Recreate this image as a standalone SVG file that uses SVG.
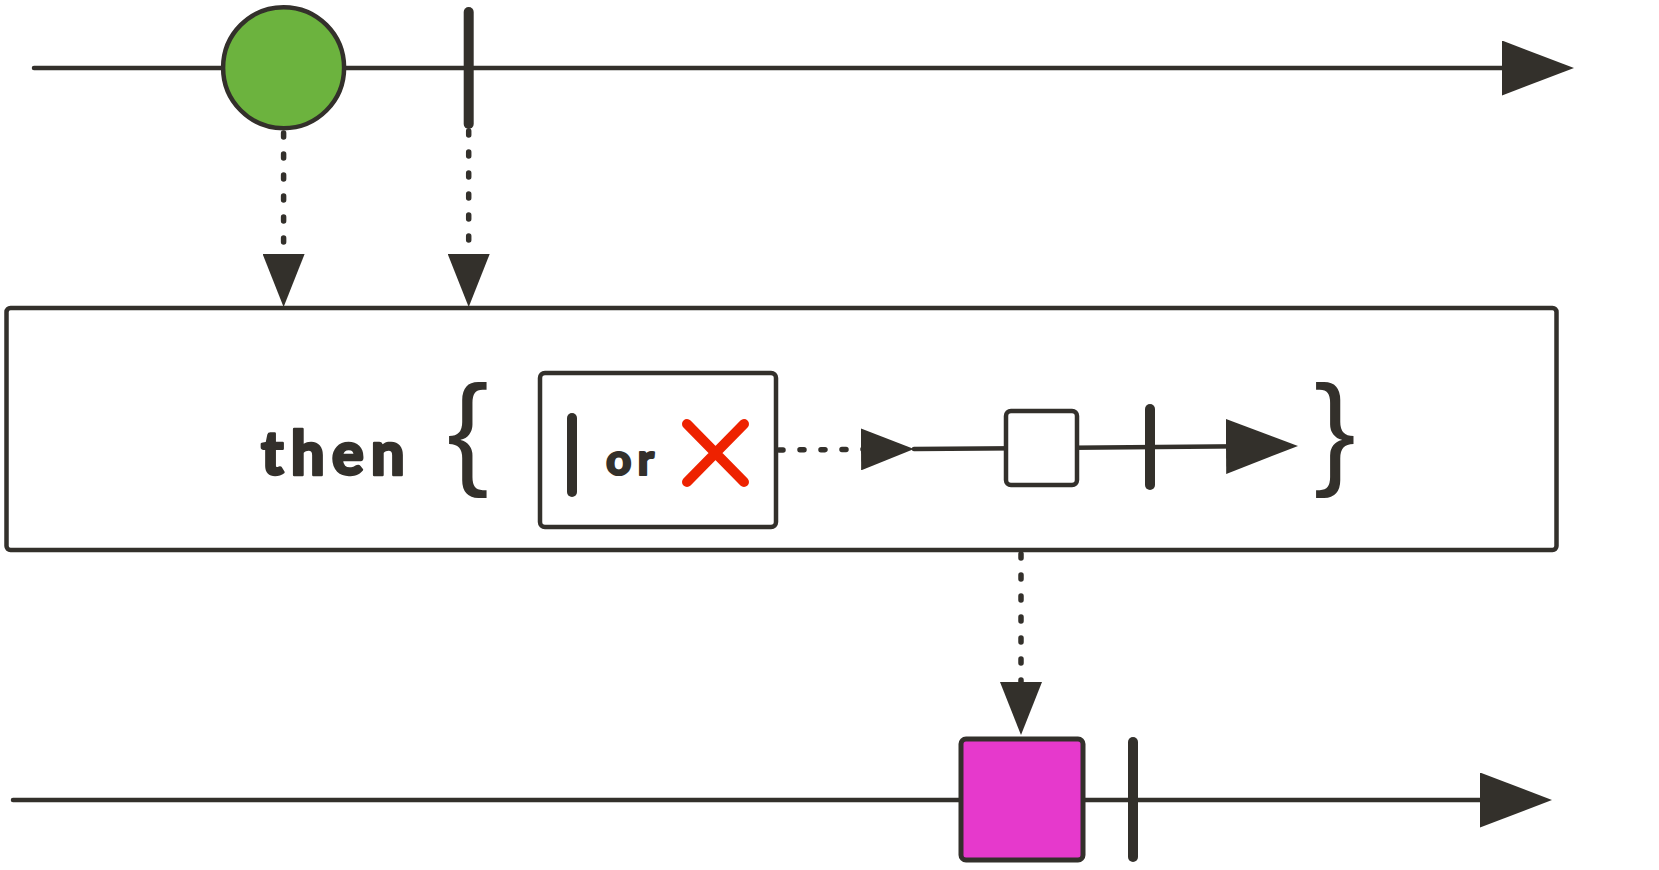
<svg xmlns="http://www.w3.org/2000/svg" width="1659" height="870" viewBox="0 0 1659 870">
<style>
.line{stroke:#33302b;stroke-width:4.5;fill:none;stroke-linecap:round}
.dot{stroke:#33302b;stroke-width:5.5;fill:none;stroke-linecap:round;stroke-dasharray:4 17}
.tick{stroke:#33302b;stroke-width:10;stroke-linecap:round;fill:none}
.box{fill:#ffffff;stroke:#33302b;stroke-width:4.5}
.txt{font-family:"Lato","Open Sans","Liberation Sans",sans-serif;font-weight:900;fill:#33302b;stroke:#33302b;stroke-linejoin:round}
.brace{font-family:"Liberation Sans",sans-serif;fill:#33302b}
</style>
<defs>
<marker id="big" markerUnits="userSpaceOnUse" markerWidth="73" markerHeight="55" refX="60" refY="27.5" orient="auto">
<path d="M0,0 L72,27.5 L0,55 Z" fill="#33302b"/>
</marker>
<marker id="small" markerUnits="userSpaceOnUse" markerWidth="54" markerHeight="42" refX="43" refY="21" orient="auto">
<path d="M0,0 L53,21 L0,42 Z" fill="#33302b"/>
</marker>
</defs>
<g id="connectors">
<path class="line" d="M34,68 L1562,68" marker-end="url(#big)"/>
<path class="dot" d="M283.6,133 L283.6,297" marker-end="url(#small)"/>
<path class="dot" d="M468.7,131 L468.7,297" marker-end="url(#small)"/>
<path class="dot" d="M1021,554 L1021,725" marker-end="url(#small)"/>
<path class="line" d="M13,800 L1540,800" marker-end="url(#big)"/>
</g>
<g id="operator">
<rect class="box" x="6.5" y="308" width="1550" height="242" rx="4"/>
<text class="txt" x="261" y="475" font-size="60" letter-spacing="7" stroke-width="2.5">then</text>
<text class="brace" x="447" y="472" font-size="125">{</text>
<text class="brace" x="1314" y="472" font-size="125">}</text>
<g id="inner-input">
<rect class="box" x="540" y="373" width="236" height="154" rx="5"/>
<line class="tick" x1="572" y1="418" x2="572" y2="492"/>
<text class="txt" x="606" y="475" font-size="44" letter-spacing="6" stroke-width="2">or</text>
<path d="M687,424 L744,482 M744,424 L687,482" stroke="#ee2200" stroke-width="10" stroke-linecap="round" fill="none"/>
</g>
<path class="dot" d="M779,450 L904,449" marker-end="url(#small)"/>
<path class="line" d="M914,449 L1286,446" marker-end="url(#big)"/>
<rect id="inner-item" class="box" x="1006" y="411" width="71" height="74" rx="5"/>
<line id="inner-complete" class="tick" x1="1150" y1="409" x2="1150" y2="485"/>
</g>
<g id="source-item">
<circle cx="283.6" cy="67.7" r="60.5" fill="#6cb33e" stroke="#33302b" stroke-width="4.5"/>
</g>
<g id="source-complete">
<line class="tick" x1="468.7" y1="12" x2="468.7" y2="124"/>
</g>
<g id="result-item">
<rect x="961" y="739" width="122" height="121" rx="5" fill="#e639cc" stroke="#33302b" stroke-width="5"/>
</g>
<g id="result-complete">
<line class="tick" x1="1133" y1="742" x2="1133" y2="857"/>
</g>
</svg>
